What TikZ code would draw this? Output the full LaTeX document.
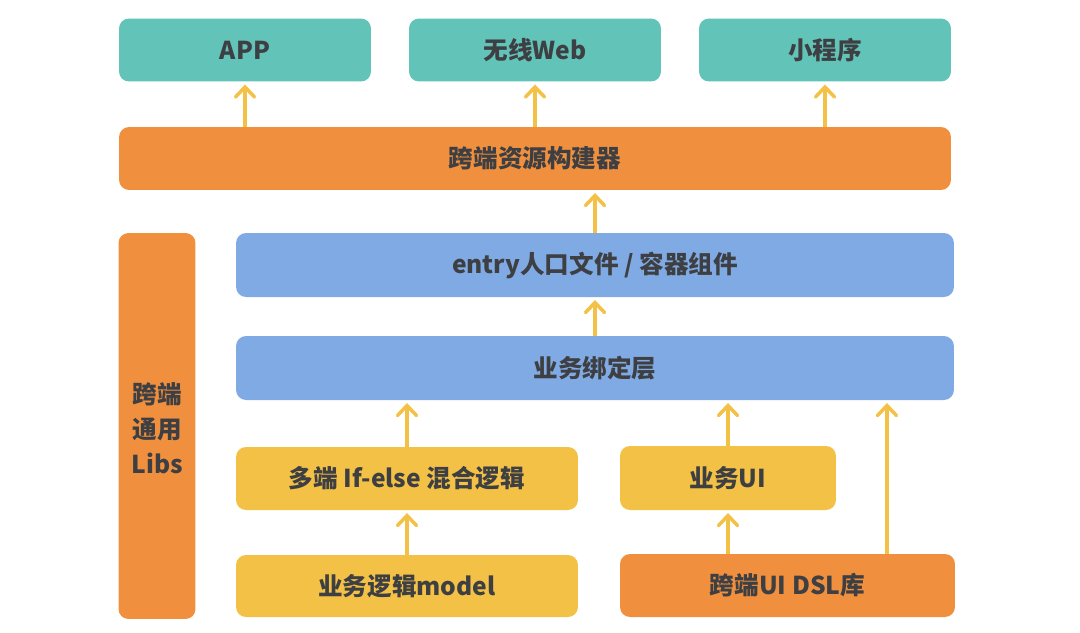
\documentclass[tikz,border=0pt]{standalone}
\usepackage{fontspec}
\newfontfamily\cjk{Noto Sans CJK SC}
\usepackage{tikz}
\usetikzlibrary{positioning, arrows.meta, calc}
\usepackage{xcolor}
\definecolor{archteal}{HTML}{62C3B9}
\definecolor{archorange}{HTML}{F0903F}
\definecolor{archblue}{HTML}{80AAE4}
\definecolor{archyellow}{HTML}{F3C145}
\definecolor{archtext}{HTML}{3E3F42}

\begin{document}
\begin{tikzpicture}[x=0.02cm, y=-0.02cm,
  box/.style={rounded corners=0.2cm, inner sep=0pt, align=center, text=archtext,
    font=\cjk\bfseries\fontsize{14}{20}\selectfont},
  up/.style={draw=archyellow, line width=2pt, -{Straight Barb[length=2mm, width=3.8mm, line cap=round]}, shorten >=1.5pt}]
\useasboundingbox (0,0) rectangle (1080,633);
% targets
\node[box, fill=archteal, minimum width=5.04cm, minimum height=1.26cm] (app) at (245,50) {APP};
\node[box, fill=archteal, minimum width=5.04cm, minimum height=1.26cm] (web) at (535,50) {无线Web};
\node[box, fill=archteal, minimum width=5.04cm, minimum height=1.26cm] (mini) at (825,50) {小程序};
\node[box, fill=archorange, minimum width=16.64cm, minimum height=1.26cm] (builder) at (535,158.5) {跨端资源构建器};
% libs column
\node[box, fill=archorange, minimum width=1.54cm, minimum height=7.72cm] (libs) at (157,426) {};
\node[box, yshift=-0.04cm] (libstext) at (libs) {跨端\\通用\\Libs};
% layers
\node[box, fill=archblue, minimum width=14.36cm, minimum height=1.28cm] (entry) at (595,265) {entry人口文件 / 容器组件};
\node[box, fill=archblue, minimum width=14.36cm, minimum height=1.28cm] (bind) at (595,368) {业务绑定层};
\node[box, fill=archyellow, minimum width=6.84cm, minimum height=1.26cm] (ifelse) at (407,478.5) {多端 If-else 混合逻辑};
\node[box, fill=archyellow, minimum width=4.32cm, minimum height=1.28cm] (bizui) at (728,478) {业务UI};
\node[box, fill=archyellow, minimum width=6.84cm, minimum height=1.24cm] (model) at (407,586) {业务逻辑model};
\node[box, fill=archorange, minimum width=6.7cm, minimum height=1.26cm] (dsl) at (787.5,585.5) {跨端UI DSL库};
% arrows
\draw[up] (builder.north -| app) -- (app.south);
\draw[up] (builder.north -| web) -- (web.south);
\draw[up] (builder.north -| mini) -- (mini.south);
\draw[up] (entry.north) -- (entry.north |- builder.south);
\draw[up] (bind.north) -- (entry.south);
\draw[up] (ifelse.north) -- (ifelse.north |- bind.south);
\draw[up] (model) -- (ifelse);
\draw[up] (bizui.north) -- (bizui.north |- bind.south);
\draw[up] (dsl.north -| bizui) -- (bizui.south);
\draw[up] ([xshift=1.99cm]dsl.north) -- ([xshift=1.99cm]dsl.north |- bind.south);
\end{tikzpicture}
\end{document}
